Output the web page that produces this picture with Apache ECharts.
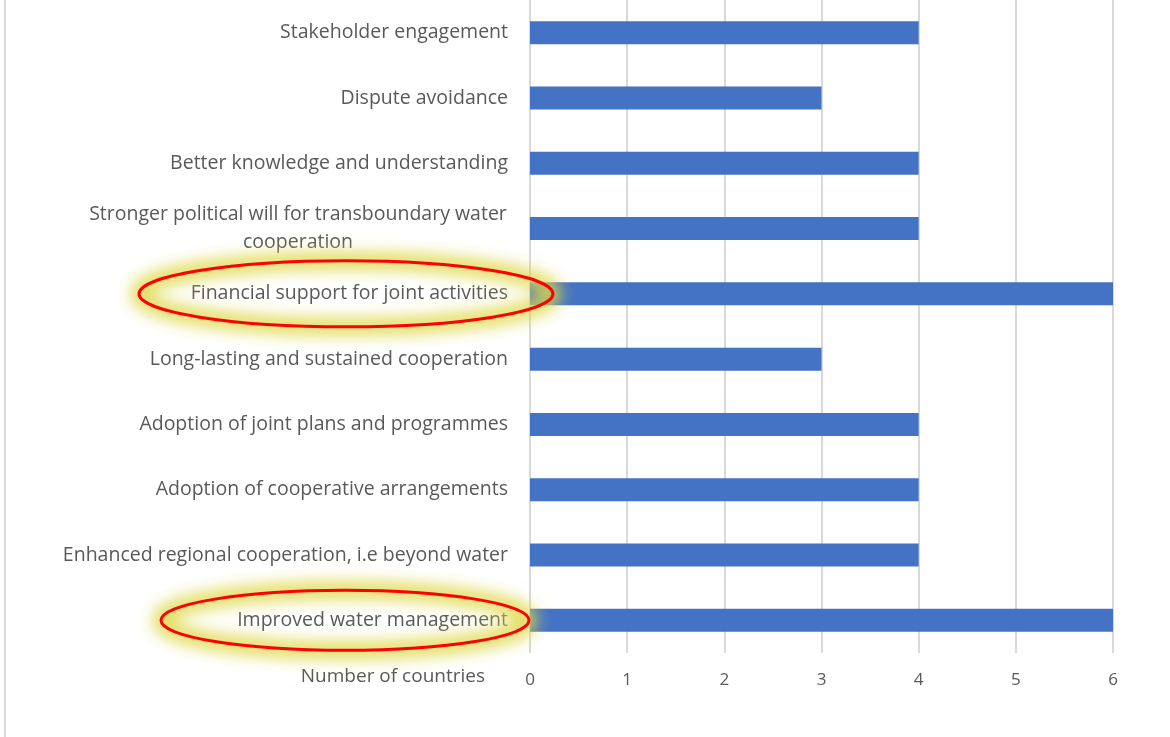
<!DOCTYPE html>
<html>
<head>
<meta charset="utf-8">
<script src="https://cdn.jsdelivr.net/npm/echarts@6/dist/echarts.min.js"></script>
<style>
  html, body { margin: 0; padding: 0; background: #fff; }
  #chart { width: 1170px; height: 737px; }
</style>
</head>
<body>
<div id="chart"></div>
<script>
var categories = [
  'Stakeholder engagement',
  'Dispute avoidance',
  'Better knowledge and understanding',
  'Stronger political will for transboundary water\ncooperation',
  'Financial support for joint activities',
  'Long-lasting and sustained cooperation',
  'Adoption of joint plans and programmes',
  'Adoption of cooperative arrangements',
  'Enhanced regional cooperation, i.e beyond water',
  'Improved water management'
];
var countries = [4, 3, 4, 4, 6, 3, 4, 4, 4, 6];
var highlighted = ['Financial support for joint activities', 'Improved water management'];

var chartDom = document.getElementById('chart');
var myChart = echarts.init(chartDom);
var font = 'Open Sans';
var grey = '#595959';

var option = {
  animation: false,
  grid: { left: 530, right: 57, top: 0, bottom: 84 },
  xAxis: {
    type: 'value',
    min: 0,
    max: 6,
    interval: 1,
    name: 'Number of countries',
    nameLocation: 'start',
    nameGap: 45,
    nameTextStyle: {
      color: grey, fontFamily: font, fontSize: 19,
      align: 'right', verticalAlign: 'top', padding: [14, 0, 0, 0]
    },
    axisLine: { show: false },
    axisTick: { show: false },
    axisLabel: { color: grey, fontFamily: font, fontSize: 17, margin: 19 },
    splitLine: { lineStyle: { color: '#d9d9d9', width: 2 } }
  },
  yAxis: {
    type: 'category',
    inverse: true,
    data: categories,
    axisLine: { show: false },
    axisTick: { show: false },
    axisLabel: {
      color: grey, fontFamily: font, fontSize: 19.5, margin: 22, lineHeight: 28,
      formatter: function (v) {
        if (v.indexOf('\n') < 0) return v;
        return v.split('\n').map(function (s) { return '{c|' + s + '}'; }).join('\n');
      },
      rich: { c: { width: 420, align: 'center', color: grey, fontFamily: font, fontSize: 19.5, lineHeight: 28 } }
    }
  },
  series: [{
    type: 'bar',
    data: countries,
    barWidth: 23,
    itemStyle: { color: '#4472c4' }
  }]
};

option && myChart.setOption(option);

// highlight ellipses around selected labels: blurred yellow glow + red ring
var off = 3000;
var rings = [];
highlighted.forEach(function (name, i) {
  var y = myChart.convertToPixel({ yAxisIndex: 0 }, name);
  var cx = i === 0 ? 346 : 345;
  var rx = i === 0 ? 207 : 184;
  var ry = i === 0 ? 33 : 30;
  rings.push({
    type: 'ellipse',
    shape: { cx: cx - off, cy: y, rx: rx, ry: ry },
    style: {
      fill: null, stroke: '#000', lineWidth: 16,
      shadowBlur: 16, shadowOffsetX: off, shadowColor: 'rgba(222, 216, 70, 0.95)'
    },
    z: 99
  });
  rings.push({
    type: 'ellipse',
    shape: { cx: cx, cy: y, rx: rx, ry: ry },
    style: { fill: null, stroke: '#ff0000', lineWidth: 3 },
    z: 100
  });
});
rings.push({
  type: 'line',
  shape: { x1: 5, y1: 0, x2: 5, y2: 737 },
  style: { stroke: '#d9d9d9', lineWidth: 2 }
});
myChart.setOption({ graphic: rings });
</script>
</body>
</html>
